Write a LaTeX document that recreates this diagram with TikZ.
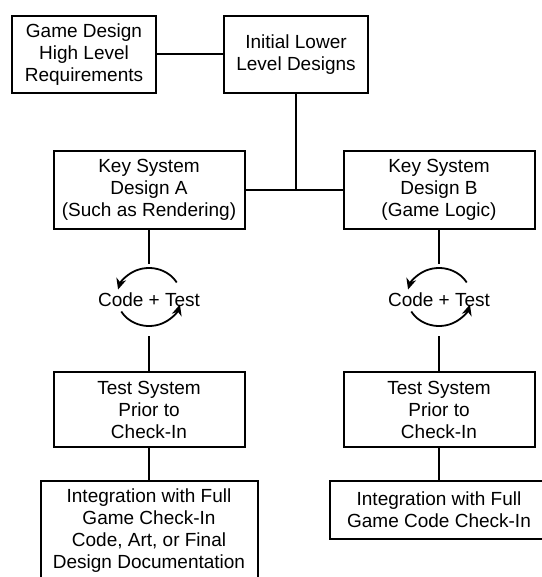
\documentclass[tikz,border=0pt]{standalone}
\usepackage{fontspec}
\setmainfont{Liberation Sans}
\usetikzlibrary{arrows.meta}

\begin{document}
\begin{tikzpicture}[x=1pt, y=-1pt, line width=2pt,
    box/.style={draw, align=center, inner sep=0pt, font=\fontsize{19}{22}\selectfont},
    loopnode/.style={align=center, inner sep=0pt, minimum height=70pt, font=\fontsize{19}{22}\selectfont},
    cyclearrow/.style={-{Stealth[length=11pt,width=10pt]}, line width=1.8pt}]

    \useasboundingbox (0,0) rectangle (541,577);

    \node[box, minimum width=144pt, minimum height=77pt] (req) at (84,54.5) {Game Design\\High Level\\Requirements};
    \node[box, minimum width=144pt, minimum height=77pt] (init) at (296,54.5) {Initial Lower\\Level Designs};

    \node[box, minimum width=191pt, minimum height=78pt] (keyA) at (149,190) {Key System\\Design A\\(Such as Rendering)};
    \node[box, minimum width=191pt, minimum height=78pt] (keyB) at (439,190) {Key System\\Design B\\(Game Logic)};

    \node[loopnode] (codeA) at (149,300) {Code + Test};
    \node[loopnode] (codeB) at (439,300) {Code + Test};

    \node[box, minimum width=191pt, minimum height=75pt] (testA) at (149,409.5) {Test System\\Prior to\\Check-In};
    \node[box, minimum width=191pt, minimum height=75pt] (testB) at (439,409.5) {Test System\\Prior to\\Check-In};

    \node[box, minimum width=217pt, minimum height=100pt] (intA) at (149,531) {Integration with Full\\Game Check-In\\Code, Art, or Final\\Design Documentation};
    \node[box, minimum width=218pt, minimum height=58pt] (intB) at (439,510) {Integration with Full\\Game Code Check-In};

    % top row and the split
    \draw (req) -- (init);
    \coordinate (join) at (init.south |- keyA.east);
    \draw (init) -- (join);
    \draw (keyA) -- (keyB);

    % the two columns
    \draw (keyA) -- (codeA);
    \draw (codeA) -- (testA);
    \draw (testA) -- (intA);
    \draw (keyB) -- (codeB);
    \draw (codeB) -- (testB);
    \draw (testB) -- (intB);

    % code/test loops
    \foreach \c in {codeA, codeB} {
        \coordinate (\c-o) at ([yshift=3pt]\c.center);
        \draw[cyclearrow] ([shift={(30:32pt and 29pt)}]\c-o) arc[start angle=30, end angle=165, x radius=32pt, y radius=29pt];
        \draw[cyclearrow] ([shift={(210:32pt and 29pt)}]\c-o) arc[start angle=210, end angle=345, x radius=32pt, y radius=29pt];
    }

\end{tikzpicture}
\end{document}
